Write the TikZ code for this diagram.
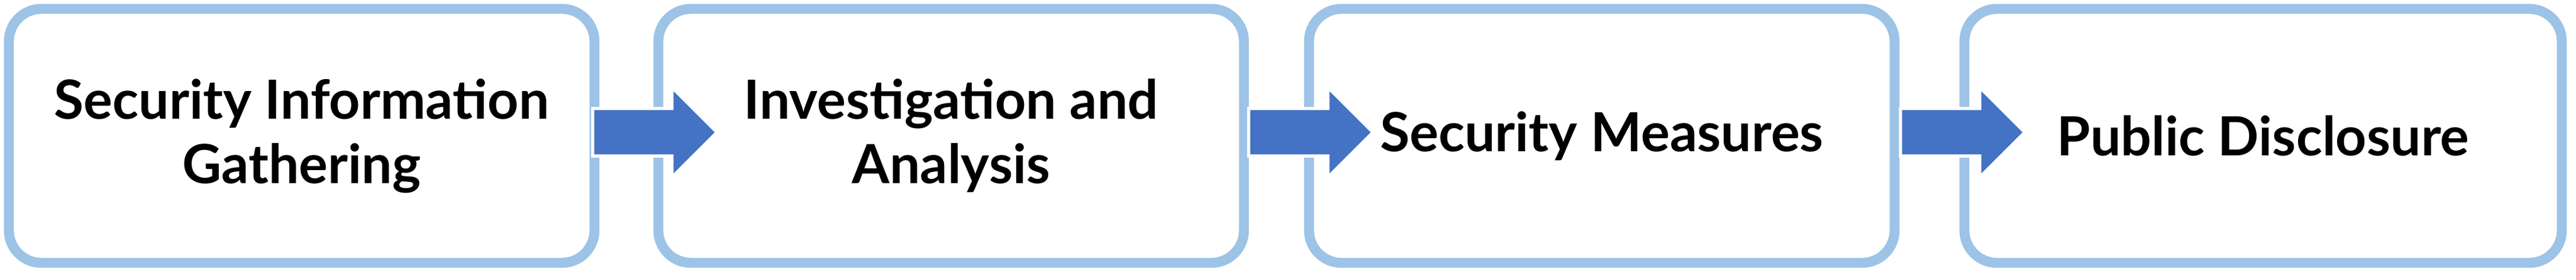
\documentclass[tikz,border=0pt]{standalone}
\usepackage{fontspec}
\setmainfont{Lato}
\usetikzlibrary{shapes.arrows}
\definecolor{boxline}{HTML}{9DC3E6}
\definecolor{arrowfill}{HTML}{4472C4}
\begin{document}
\begin{tikzpicture}

      \useasboundingbox (0,0) rectangle (43.55,4.74);

      \begin{scope}[every node/.style={draw=boxline,line width=4.8pt,rounded corners=0.55cm,
          fill=white,minimum height=4.3cm,align=center,
          font=\fontsize{26}{31}\selectfont\bfseries}]
        \node[minimum width=9.9cm]  (1) at (5.10,2.44)  {Security Information\\Gathering};
        \node[minimum width=9.9cm]  (2) at (16.08,2.44) {Investigation and\\Analysis};
        \node[minimum width=9.9cm]  (3) at (27.08,2.44) {Security Measures};
        \node[minimum width=10.1cm] (4) at (38.26,2.44) {Public Disclosure};
      \end{scope}

      \begin{scope}[every node/.style={single arrow,fill=arrowfill,draw=white,line width=1.5pt,
          minimum height=2.1cm,inner xsep=0pt,inner ysep=0.375cm,text height=0pt,text depth=0pt,
          single arrow head extend=0.36cm,single arrow head indent=0pt}]
        \node (a12) at (10.87,2.50) {};
        \node (a23) at (21.96,2.50) {};
        \node (a34) at (32.98,2.50) {};
      \end{scope}

    \end{tikzpicture}
\end{document}
